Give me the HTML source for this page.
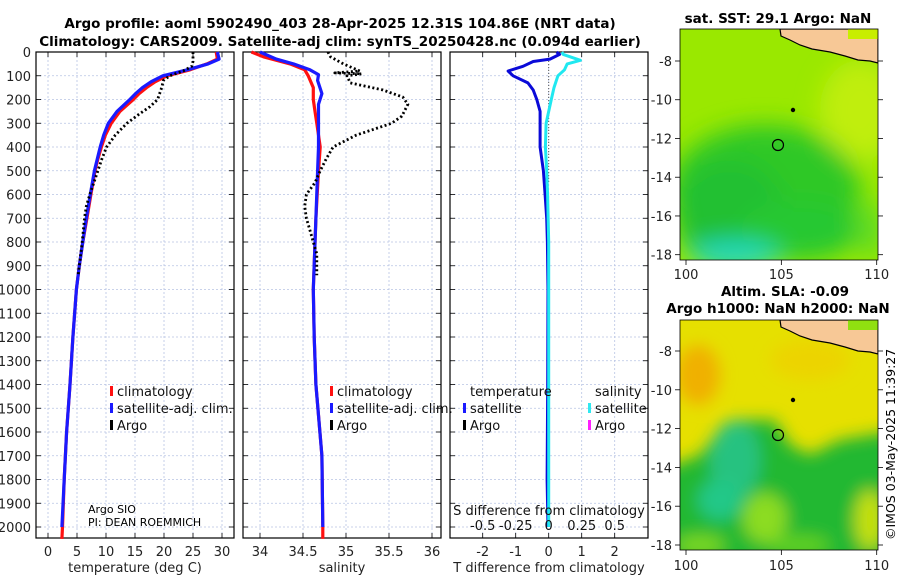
<!DOCTYPE html>
<html><head><meta charset="utf-8"><style>
html,body{margin:0;padding:0;background:#fff;}
svg{display:block;font-family:"DejaVu Sans","Liberation Sans",sans-serif;}
</style></head><body>
<svg id="fig" width="900" height="580" viewBox="0 0 900 580" xmlns="http://www.w3.org/2000/svg">
<defs>
<filter id="blur1" x="-50%" y="-50%" width="200%" height="200%"><feGaussianBlur stdDeviation="12"/></filter>
<filter id="blur2" x="-50%" y="-50%" width="200%" height="200%"><feGaussianBlur stdDeviation="8"/></filter>
<clipPath id="clipM1"><rect x="680" y="29" width="198" height="231"/></clipPath>
<clipPath id="clipM2"><rect x="680" y="320" width="198" height="230"/></clipPath>
</defs>
<text x="340" y="28" text-anchor="middle" font-weight="bold" font-size="13.5">Argo profile: aoml 5902490_403 28-Apr-2025 12.31S 104.86E (NRT data)</text>
<text x="340" y="46" text-anchor="middle" font-weight="bold" font-size="13.5">Climatology: CARS2009. Satellite-adj clim: synTS_20250428.nc (0.094d earlier)</text>
<g id="panels"></g>
<g>
<g clip-path="url(#clipM1)">
<rect x="680" y="29" width="198" height="231" fill="#9ae800"/>
<g filter="url(#blur1)">
<ellipse cx="860" cy="110" rx="40" ry="50" fill="#c0ee10"/>
<ellipse cx="765" cy="190" rx="95" ry="65" fill="#2ec828"/>
<ellipse cx="730" cy="215" rx="55" ry="55" fill="#24c030"/>
<ellipse cx="800" cy="230" rx="60" ry="30" fill="#28c830"/>
<ellipse cx="735" cy="255" rx="45" ry="14" fill="#20d8c0"/>
<ellipse cx="870" cy="230" rx="14" ry="30" fill="#60dc20"/>
</g>
<polygon fill="#f7c896" stroke="#000" stroke-width="1.2" points="780,29 781,36 790,40 800,45 812,49 830,52 845,56 858,60 870,61 878,63 878,29"/>
<rect x="848" y="29" width="30" height="10" fill="#c8ee00"/>
</g>
<rect x="680" y="29" width="198" height="231" fill="none" stroke="#000" stroke-width="0.8"/>
<circle cx="793" cy="110" r="2.2" fill="#000"/>
<circle cx="778" cy="145" r="5.5" fill="none" stroke="#000" stroke-width="1.2"/>
<text x="778" y="23" text-anchor="middle" font-weight="bold" font-size="13.5">sat. SST: 29.1 Argo: NaN</text>
</g>
<g>
<g clip-path="url(#clipM2)">
<rect x="680" y="320" width="198" height="230" fill="#e6e000"/>
<g filter="url(#blur2)">
<ellipse cx="698" cy="375" rx="22" ry="30" fill="#f0b000"/>
<ellipse cx="810" cy="360" rx="40" ry="20" fill="#ecd400"/>
<path d="M660 470 L700 455 L720 430 L740 420 L775 420 L790 445 L810 455 L840 440 L900 430 L900 580 L660 580 Z" fill="#22b830"/>
<ellipse cx="735" cy="460" rx="25" ry="40" fill="#26c280"/>
<ellipse cx="720" cy="500" rx="22" ry="20" fill="#20c888"/>
<ellipse cx="765" cy="518" rx="22" ry="25" fill="#8cdc20"/>
<ellipse cx="700" cy="545" rx="25" ry="10" fill="#7cd820"/>
<ellipse cx="870" cy="520" rx="15" ry="30" fill="#c4e010"/>
<ellipse cx="800" cy="545" rx="30" ry="10" fill="#60d020"/>
</g>
<polygon fill="#f7c896" stroke="#000" stroke-width="1.2" points="780,320 781,327 790,331 800,336 812,340 830,343 845,347 858,351 870,352 878,354 878,320"/>
<rect x="848" y="320" width="30" height="10" fill="#90e010"/>
</g>
<rect x="680" y="320" width="198" height="230" fill="none" stroke="#000" stroke-width="0.8"/>
<circle cx="793" cy="400" r="2.2" fill="#000"/>
<circle cx="778" cy="435" r="5.5" fill="none" stroke="#000" stroke-width="1.2"/>
<text x="785" y="296" text-anchor="middle" font-weight="bold" font-size="13.5">Altim. SLA: -0.09</text>
<text x="778" y="313" text-anchor="middle" font-weight="bold" font-size="13.5">Argo h1000: NaN h2000: NaN</text>
</g>
<g id="mapaxes"></g>
<text transform="translate(895,540) rotate(-90)" font-size="12.5">©IMOS 03-May-2025 11:39:27</text>
</svg>
<script>
// ---- data ----
const depthTicks=[0,100,200,300,400,500,600,700,800,900,1000,1100,1200,1300,1400,1500,1600,1700,1800,1900,2000];
const tempTicks=[0,5,10,15,20,25,30];
const salTicks=[34,34.5,35,35.5,36];
const tdiffTicks=[-2,-1,0,1,2];
const sdiffTicks=[-0.5,-0.25,0,0.25,0.5];
const tClimDepth=[0,30,50,75,100,125,150,175,200,250,300,350,400,450,500,600,700,800,900,1000,1200,1400,1600,1800,2000,2050];
const tClim=[29,29.2,27.4,24.5,20.5,18.5,17,15.7,14.7,12.4,10.9,9.9,9.2,8.6,8.1,7.4,6.7,6.0,5.4,4.9,4.3,3.8,3.2,2.8,2.5,2.4];
const tSatDepth=[0,30,50,75,100,125,150,175,200,250,300,350,400,450,500,600,700,800,900,1000,1200,1400,1600,1800,2000];
const tSat=[29.2,29.5,27.6,24,19.8,17.8,16.3,15.1,14.1,11.9,10.4,9.6,9.0,8.5,8.0,7.3,6.6,6.0,5.4,4.9,4.3,3.8,3.2,2.8,2.4];
const tArgoDepth=[0,20,40,60,80,100,120,150,200,230,260,300,350,400,450,500,600,650,700,800,940];
const tArgo=[25,25,25,24.8,23.3,21,19.9,19.6,18.9,17.6,15.8,13.6,11.6,10.1,9.3,8.6,7.2,6.6,6.3,5.9,5.2];
const sClimDepth=[0,20,50,75,100,150,200,250,300,400,500,700,1000,1200,1400,1700,2000,2050];
const sClim=[33.9,34.04,34.35,34.52,34.56,34.62,34.62,34.64,34.66,34.7,34.68,34.65,34.62,34.63,34.65,34.72,34.73,34.73];
const sSatDepth=[0,30,50,75,95,120,175,220,300,400,500,700,1000,1200,1400,1700,2000];
const sSat=[34.0,34.19,34.39,34.58,34.68,34.67,34.72,34.68,34.68,34.68,34.67,34.65,34.62,34.63,34.65,34.72,34.73];
const sArgoDepth=[0,20,50,80,88,92,100,130,160,190,220,270,300,350,400,450,500,550,600,650,700,750,800,850,940];
const sArgo=[34.79,34.82,34.97,35.16,34.87,35.18,35.01,35.05,35.43,35.66,35.72,35.65,35.53,35.12,34.85,34.77,34.70,34.64,34.54,34.52,34.54,34.58,34.62,34.66,34.66];
const tdDepth=[0,10,30,40,60,80,100,130,160,200,250,400,500,600,700,800,1000,1400,1800,2000];
const tDiff=[0.24,0.33,0.04,-0.47,-0.78,-1.23,-1.08,-0.63,-0.47,-0.36,-0.26,-0.26,-0.16,-0.11,-0.06,-0.04,-0.02,-0.03,-0.05,-0.02];
const sdDepth=[0,10,35,50,75,100,150,200,300,400,500,600,800,1200,2000];
const sDiff=[0.1,0.11,0.24,0.14,0.12,0.07,0.04,0.02,-0.02,-0.025,-0.015,-0.008,0,0,0];
const latTicks=[-8,-10,-12,-14,-16,-18];
const lonTicks=[100,105,110];

// ---- scales ----
const yTop=52, yBot=538;
const yD=d=>yTop+d*0.2375;
const xT=t=>48+t*5.8;
const xS=s=>260+(s-34)*86;
const xTD=t=>548.7+t*33;
const xSD=s=>548.7+s*132;
const NS='http://www.w3.org/2000/svg';
const panels=document.getElementById('panels');
function mk(tag,attrs,parent){const e=document.createElementNS(NS,tag);for(const k in attrs)e.setAttribute(k,attrs[k]);(parent||panels).appendChild(e);return e;}
function txt(x,y,s,attrs,parent){const e=mk('text',Object.assign({x:x,y:y,'font-size':13},attrs||{}),parent);e.textContent=s;return e;}

function panel(name,x0,x1,ticks,xf){
  const g=mk('g',{});
  
  
  depthTicks.forEach(d=>{mk('line',{x1:x0,x2:x1,y1:yD(d),y2:yD(d),stroke:'#b8c4e4','stroke-width':0.8,'stroke-dasharray':'2,2'},g);
    mk('line',{x1:x0,x2:x0+5,y1:yD(d),y2:yD(d),stroke:'#000','stroke-width':0.8},g);
    mk('line',{x1:x1-5,x2:x1,y1:yD(d),y2:yD(d),stroke:'#000','stroke-width':0.8},g);});
  ticks.forEach(t=>{const x=xf(t);mk('line',{x1:x,x2:x,y1:yTop,y2:yBot,stroke:'#b8c4e4','stroke-width':0.8,'stroke-dasharray':'2,2'},g);
    mk('line',{x1:x,x2:x,y1:yBot-5,y2:yBot,stroke:'#000','stroke-width':0.8},g);
    mk('line',{x1:x,x2:x,y1:yTop,y2:yTop+5,stroke:'#000','stroke-width':0.8},g);
    const l=txt(x,556,String(t),{'text-anchor':'middle',fill:'#222'},g);
    
    
  });
  mk('rect',{x:x0,y:yTop,width:x1-x0,height:yBot-yTop,fill:'none',stroke:'#000','stroke-width':1.2},g);
  return g;
}
function line(g,depths,vals,xf,color,w,dash,name){
  const pts=depths.map((d,i)=>xf(vals[i]).toFixed(1)+','+yD(d).toFixed(1)).join(' ');
  const p=mk('polyline',{points:pts,fill:'none',stroke:color,'stroke-width':w,'stroke-linejoin':'round'},g);
  if(dash)p.setAttribute('stroke-dasharray',dash);
  
  
}
function legendRow(g,x,y,color,label){
  mk('rect',{x:x,y:y-10,width:3,height:10,fill:color},g);
  txt(x+7,y,label,{fill:'#111'},g);
}
depthTicks.forEach(d=>{const l=txt(31,yD(d)+5,String(d),{'text-anchor':'end',fill:'#222'});
  
  });

const g1=panel('temperature-panel',36,234,tempTicks,xT);
line(g1,tClimDepth,tClim,xT,'#ff1010',3.2,null,'temp-climatology-line');
line(g1,tSatDepth,tSat,xT,'#1a1aff',3.2,null,'temp-satellite-line');
line(g1,tArgoDepth,tArgo,xT,'#000',2.8,'2,2.5','temp-argo-line');
txt(135,572,'temperature (deg C)',{'text-anchor':'middle',fill:'#222'});
legendRow(g1,110,396,'#ff1010','climatology');
legendRow(g1,110,413,'#1a1aff','satellite-adj. clim.');
legendRow(g1,110,430,'#000','Argo');
txt(88,513,'Argo SIO',{'font-size':11});
txt(88,526,'PI: DEAN ROEMMICH',{'font-size':11});

const g2=panel('salinity-panel',243,441,salTicks,xS);
line(g2,sClimDepth,sClim,xS,'#ff1010',3.2,null,'sal-climatology-line');
line(g2,sSatDepth,sSat,xS,'#1a1aff',3.2,null,'sal-satellite-line');
line(g2,sArgoDepth,sArgo,xS,'#000',2.8,'2,2.5','sal-argo-line');
txt(342,572,'salinity',{'text-anchor':'middle',fill:'#222'});
legendRow(g2,330,396,'#ff1010','climatology');
legendRow(g2,330,413,'#1a1aff','satellite-adj. clim.');
legendRow(g2,330,430,'#000','Argo');

const g3=panel('difference-panel',450,648,tdiffTicks,xTD);
mk('line',{x1:xTD(0),x2:xTD(0),y1:yD(0),y2:yD(550),stroke:'#555','stroke-width':1,'stroke-dasharray':'1,2'},g3);
line(g3,tdDepth,tDiff,xTD,'#0a0ad8',3,null,'temp-diff-line');
line(g3,sdDepth,sDiff,xSD,'#20e8f0',3,null,'sal-diff-line');
txt(549,572,'T difference from climatology',{'text-anchor':'middle',fill:'#222'});
txt(549,515,'S difference from climatology',{'text-anchor':'middle',fill:'#111'});
sdiffTicks.forEach(s=>{const l=txt(xSD(s),530,String(s),{'text-anchor':'middle',fill:'#111'},g3);
  
  });
txt(470,396,'temperature',{fill:'#111'},g3);
txt(595,396,'salinity',{fill:'#111'},g3);
legendRow(g3,463,413,'#1a1aff','satellite');
legendRow(g3,463,430,'#000','Argo');
legendRow(g3,588,413,'#30e8f0','satellite');
legendRow(g3,588,430,'#ff20ff','Argo');

const mapAx=document.getElementById('mapaxes');
function mapAxes(top,bot,latY,lonLabelY){
  latTicks.forEach(l=>{const y=latY(l);
    mk('line',{x1:675,x2:680,y1:y,y2:y,stroke:'#000','stroke-width':0.8},mapAx);
    mk('line',{x1:878,x2:883,y1:y,y2:y,stroke:'#000','stroke-width':0.8},mapAx);
    const t=txt(672,y+5,String(l),{'text-anchor':'end',fill:'#222'},mapAx);
    
    });
  lonTicks.forEach(l=>{const x=686+(l-100)*19.07;
    mk('line',{x1:x,x2:x,y1:bot,y2:bot+5,stroke:'#000','stroke-width':0.8},mapAx);
    const t=txt(x,lonLabelY,String(l),{'text-anchor':'middle',fill:'#222'},mapAx);
    
    });
}
mapAxes(29,260,l=>61+(-8-l)*19.37,279);
mapAxes(320,550,l=>351+(-8-l)*19.4,570);
</script>
</body></html>
